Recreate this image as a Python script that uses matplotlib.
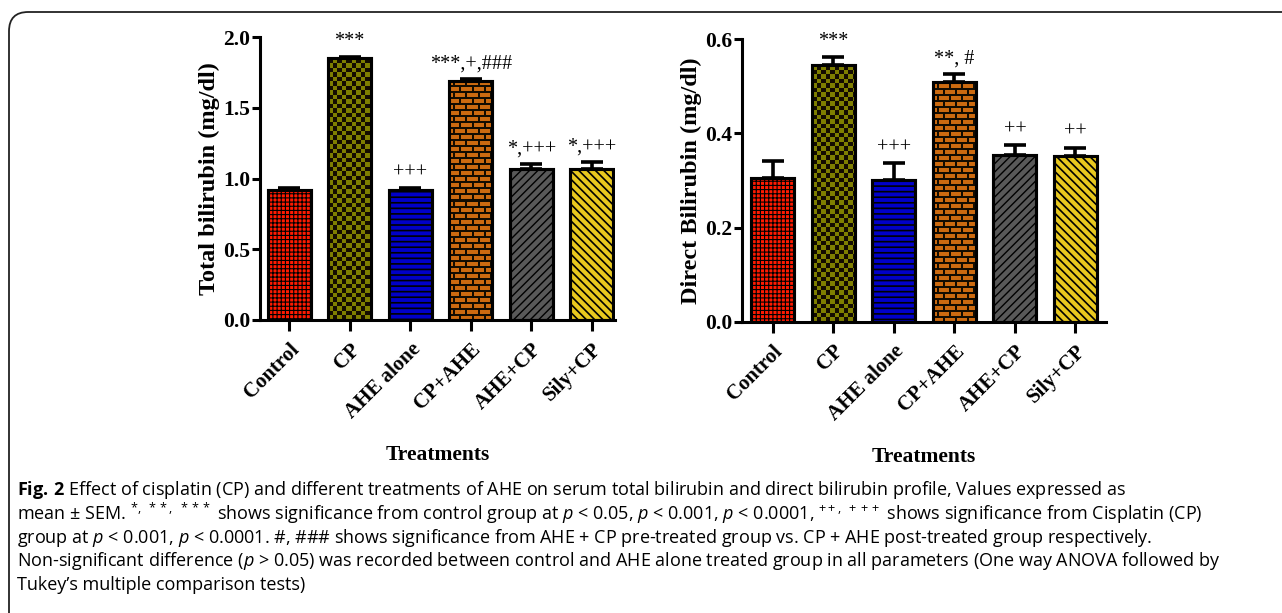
import numpy as np
import matplotlib
matplotlib.use('Agg')
import matplotlib.pyplot as plt
from matplotlib.patches import FancyBboxPatch

# ---------------------------- data ---------------------------- #
groups = ['Control', 'CP', 'AHE alone', 'CP+AHE', 'AHE+CP', 'Sily+CP']

total_mean = [0.92, 1.85, 0.92, 1.69, 1.065, 1.065]
total_sem = [0.012, 0.012, 0.012, 0.012, 0.035, 0.05]
total_marks = ['', '***', '+++', '***,+,###', '*,+++', '*,+++']

direct_mean = [0.305, 0.545, 0.301, 0.509, 0.354, 0.351]
direct_sem = [0.036, 0.018, 0.036, 0.017, 0.021, 0.019]
direct_marks = ['', '***', '+++', '**, #', '++', '++']

colors = ['#ff1a00', '#7f7f00', '#0000c8', '#cc6a10', '#595959', '#e8c81e']
hatches = ['++++', 'checker', '---', 'brick', '////', '\\\\\\\\']
hatch_lw = [0.8, 1.0, 1.2, 1.0, 1.0, 1.2]

caption = [
    r"$\mathbf{Fig.\,2}$ Effect of cisplatin (CP) and different treatments of AHE on serum total bilirubin and direct bilirubin profile, Values expressed as",
    r"mean ± SEM. $^{*,\ **,\ ***}$ shows significance from control group at $p$ < 0.05, $p$ < 0.001, $p$ < 0.0001, $^{++,\ +++}$ shows significance from Cisplatin (CP)",
    r"group at $p$ < 0.001, $p$ < 0.0001. #, ### shows significance from AHE + CP pre-treated group vs. CP + AHE post-treated group respectively.",
    r"Non-significant difference ($p$ > 0.05) was recorded between control and AHE alone treated group in all parameters (One way ANOVA followed by",
    r"Tukey’s multiple comparison tests)",
]

plt.rcParams['mathtext.fontset'] = 'custom'
plt.rcParams['mathtext.rm'] = 'Open Sans'
plt.rcParams['mathtext.it'] = 'Open Sans:italic'
plt.rcParams['mathtext.bf'] = 'Open Sans:bold'

serif = 'Liberation Serif'


def texture(ax, patch, kind, face):
    # pixel pattern (checkerboard / bricks) clipped to the bar
    bb = patch.get_window_extent()
    w, h = max(int(round(bb.width)), 1), max(int(round(bb.height)), 1)
    yy, xx = np.mgrid[0:h, 0:w]
    if kind == 'checker':
        dark = ((np.floor(xx / 4.5) + np.floor(yy / 4.5)) % 2) == 1
    else:
        row = yy // 6
        dark = (yy % 6 >= 4) | (((xx + (row % 2) * 6) % 12) >= 10)
    rgb = np.array(matplotlib.colors.to_rgb(face))
    img = np.ones((h, w, 3)) * rgb
    img[dark] = [0.08, 0.05, 0.0]
    x0, y0 = patch.get_x(), patch.get_y()
    im = ax.imshow(img[::-1], extent=(x0, x0 + patch.get_width(), y0, y0 + patch.get_height()),
                   aspect='auto', interpolation='nearest', zorder=2.1)
    im.set_clip_path(patch)


def draw_panel(ax, means, sems, marks, ylim, yticks, ylabel, xlim):
    x = np.arange(len(groups))
    ax.set_xlim(xlim)
    ax.set_ylim(ylim)
    bars = []
    for i in range(len(groups)):
        h = hatches[i] if hatches[i] not in ('checker', 'brick') else None
        with plt.rc_context({'hatch.linewidth': hatch_lw[i], 'hatch.color': 'black'}):
            b = ax.bar(x[i], means[i], width=0.71, color=colors[i], edgecolor='black',
                       linewidth=2.2, hatch=h, zorder=2)
            for p in b:
                if hasattr(p, 'set_hatch_linewidth'):
                    p.set_hatch_linewidth(hatch_lw[i])
        bars.append(b[0])
        ax.errorbar(x[i], means[i], yerr=[[0], [sems[i]]], fmt='none', ecolor='black',
                    elinewidth=2.6, capsize=8, capthick=2.6, zorder=1)
        if marks[i]:
            ax.annotate(marks[i], (x[i], means[i] + sems[i]), xytext=(0, 4),
                        textcoords='offset points', ha='center', va='bottom',
                        fontsize=14.5, family=serif, annotation_clip=False)
    for i, p in enumerate(bars):
        if hatches[i] in ('checker', 'brick'):
            texture(ax, p, hatches[i], colors[i])
    # black outline on top of the textures
    ax.bar(x, means, width=0.71, fill=False, edgecolor='black', linewidth=2.2, zorder=3)
    ax.set_xlim(xlim)
    ax.set_ylim(ylim)
    ax.set_yticks(yticks)
    ax.set_yticklabels(['%.1f' % v for v in yticks], fontsize=15.5, fontweight='bold', family=serif)
    ax.set_xticks(x)
    ax.set_xticklabels(groups, rotation=45, ha='right', rotation_mode='anchor',
                       fontsize=15, fontweight='bold', family=serif)
    ax.set_ylabel(ylabel, fontsize=17.5, fontweight='bold', family=serif, labelpad=2)
    ax.set_xlabel('Treatments', fontsize=15.5, fontweight='bold', family=serif, labelpad=16)
    for s in ['top', 'right']:
        ax.spines[s].set_visible(False)
    for s in ['left', 'bottom']:
        ax.spines[s].set_linewidth(2.2)
    ax.tick_params(axis='y', width=2.2, length=6, pad=1)
    ax.tick_params(axis='x', width=2.2, length=8, pad=6)


fig = plt.figure(figsize=(12.82, 6.13), dpi=100)

ax1 = fig.add_axes([0.2028, 0.478, 0.2769, 0.4616])
draw_panel(ax1, total_mean, total_sem, total_marks, (0, 2.0), [0.0, 0.5, 1.0, 1.5, 2.0],
           'Total bilirubin (mg/dl)', (-0.48, 5.38))

ax2 = fig.add_axes([0.5786, 0.4752, 0.2839, 0.4608])
draw_panel(ax2, direct_mean, direct_sem, direct_marks, (0, 0.6), [0.0, 0.2, 0.4, 0.6],
           'Direct Bilirubin (mg/dl)', (-0.51, 5.5))

# frame round the figure and caption
frame = FancyBboxPatch((9 / 1282, -0.05), 1.2, 1.05 - 12 / 613,
                       boxstyle='round,pad=0,rounding_size=0.015',
                       transform=fig.transFigure, fill=False, edgecolor='#222222',
                       linewidth=1.3, mutation_aspect=1282 / 613)
fig.patches.append(frame)

for k, line in enumerate(caption):
    fig.text(17 / 1282, 1 - (490 + 23.8 * k) / 613, line, fontsize=13,
             family='Open Sans', va='center', ha='left')

fig.savefig('out.png', dpi=100)
